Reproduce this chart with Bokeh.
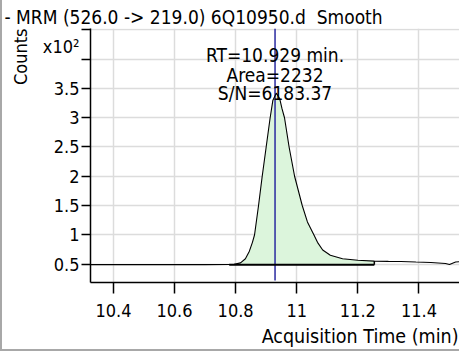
import numpy as np
from bokeh.plotting import figure
from bokeh.models import Range1d, FixedTicker, Label, Title
from bokeh.embed import file_html
from bokeh.resources import INLINE

# ---- data (counts in x10^2) ----
time_min = [10.325, 10.40, 10.50, 10.60, 10.70, 10.779, 10.795, 10.816, 10.832,
            10.845, 10.855, 10.862, 10.875, 10.887, 10.900, 10.913, 10.922, 10.933,
            10.944, 10.952, 10.960, 10.975, 10.993, 11.018, 11.035, 11.056, 11.068,
            11.085, 11.11, 11.15, 11.20, 11.254, 11.30, 11.341, 11.39, 11.439, 11.487,
            11.50, 11.52, 11.539]
counts = [0.490, 0.490, 0.490, 0.490, 0.490, 0.491, 0.495, 0.52, 0.59,
          0.72, 0.87, 1.00, 1.50, 2.00, 2.50, 3.00, 3.30, 3.42,
          3.33, 3.15, 3.00, 2.50, 2.00, 1.50, 1.22, 1.00, 0.87,
          0.74, 0.65, 0.59, 0.565, 0.55, 0.545, 0.544, 0.535, 0.527, 0.51,
          0.493, 0.535, 0.54]

peak_start, peak_end, peak_base = 10.779, 11.254, 0.487
rt = 10.929
title_text = "- MRM (526.0 -> 219.0) 6Q10950.d\u00a0 Smooth"
ann_lines = ["RT=10.929 min.", "Area=2232", "S/N=6183.37"]
x_ticks = [10.4, 10.6, 10.8, 11.0, 11.2, 11.4]
x_labels = ["10.4", "10.6", "10.8", "11", "11.2", "11.4"]
y_ticks = [0.5, 1.0, 1.5, 2.0, 2.5, 3.0, 3.5, 4.0, 4.5]
y_labels = ["0.5", "1", "1.5", "2", "2.5", "3", "3.5", "", " \nx10\u00b2"]

FONT = "DejaVu Sans Condensed"
FS = "18px"

x0, x1 = 10.325, 11.5393
y0, y1 = 0.184, 4.525

p = figure(width=459, height=351, x_range=Range1d(x0, x1), y_range=Range1d(y0, y1),
           output_backend="svg", toolbar_location=None,
           min_border_left=85, min_border_right=0, min_border_top=28, min_border_bottom=66)
p.outline_line_color = None
p.background_fill_color = "white"
p.border_fill_color = "white"
p.styles = {"border-left": "2px solid #a8a8a8", "border-bottom": "2px solid #a8a8a8"}

# main title (above)
p.title.text = title_text
p.title.align = "left"
p.title.offset = -86
p.title.standoff = 2
p.title.text_font = FONT
p.title.text_font_size = "19px"
p.title.text_font_style = "normal"
p.title.text_color = "black"

for ax in (p.xaxis, p.yaxis):
    ax.axis_line_color = "black"
    ax.axis_line_width = 1.5
    ax.major_tick_line_color = "black"
    ax.major_tick_line_width = 1.5
    ax.major_tick_in = 0
    ax.minor_tick_out = 0
    ax.minor_tick_in = 0
    ax.major_label_text_font = FONT
    ax.major_label_text_font_size = FS
    ax.major_label_text_color = "black"

p.xaxis.ticker = FixedTicker(ticks=x_ticks)
p.xaxis.major_label_overrides = {t: l for t, l in zip(x_ticks, x_labels)}
p.xaxis.major_tick_out = 11
p.xaxis.major_label_standoff = 10
p.yaxis.ticker = FixedTicker(ticks=y_ticks)
p.yaxis.major_label_overrides = {t: l for t, l in zip(y_ticks, y_labels)}
p.yaxis.major_tick_out = 9
p.yaxis.major_label_standoff = 2
p.yaxis.major_label_text_line_height = 1.6

# axis titles as side-panel titles
p.add_layout(Title(text="Counts", align="right", vertical_align="top", standoff=14,
                   text_font=FONT, text_font_size=FS, text_font_style="normal",
                   text_color="black"), "left")
p.add_layout(Title(text="Acquisition Time (min)", align="right", standoff=7, offset=3,
                   text_font=FONT, text_font_size="19.5px", text_font_style="normal",
                   text_color="black"), "below")

p.xgrid.ticker = FixedTicker(ticks=x_ticks)
p.ygrid.ticker = FixedTicker(ticks=y_ticks)
for g in (p.xgrid, p.ygrid):
    g.grid_line_color = "#dcdcdc"
    g.grid_line_width = 1.5

# integrated area fill
t = np.array(time_min)
c = np.array(counts)
inside = (t > peak_start) & (t < peak_end)
c_start = float(np.interp(peak_start, t, c))
c_end = float(np.interp(peak_end, t, c))
fx = [peak_start] + list(t[inside]) + [peak_end, peak_end, peak_start]
fy = [c_start] + list(c[inside]) + [c_end, peak_base, peak_base]
p.patch(fx, fy, fill_color="#dcf5dc", line_color=None)

# RT marker
p.segment(x0=[rt], y0=[0.22], x1=[rt], y1=[y1], line_color="#2a2aa0", line_width=1.5)

# chromatogram
p.line(time_min, counts, line_color="black", line_width=1.1)

# integration baseline
p.segment(x0=[peak_start], y0=[peak_base], x1=[peak_end], y1=[peak_base], line_color="black", line_width=2)
p.segment(x0=[peak_end], y0=[peak_base], x1=[peak_end], y1=[c_end], line_color="black", line_width=1.5)

# annotation text
for yy, txt in zip([4.069, 3.731, 3.43], ann_lines):
    p.add_layout(Label(x=rt, y=yy, text=txt, text_font=FONT, text_font_size="19px",
                       text_align="center", text_baseline="alphabetic", text_color="black"))

open("out.html", "w").write(file_html(p, INLINE))
